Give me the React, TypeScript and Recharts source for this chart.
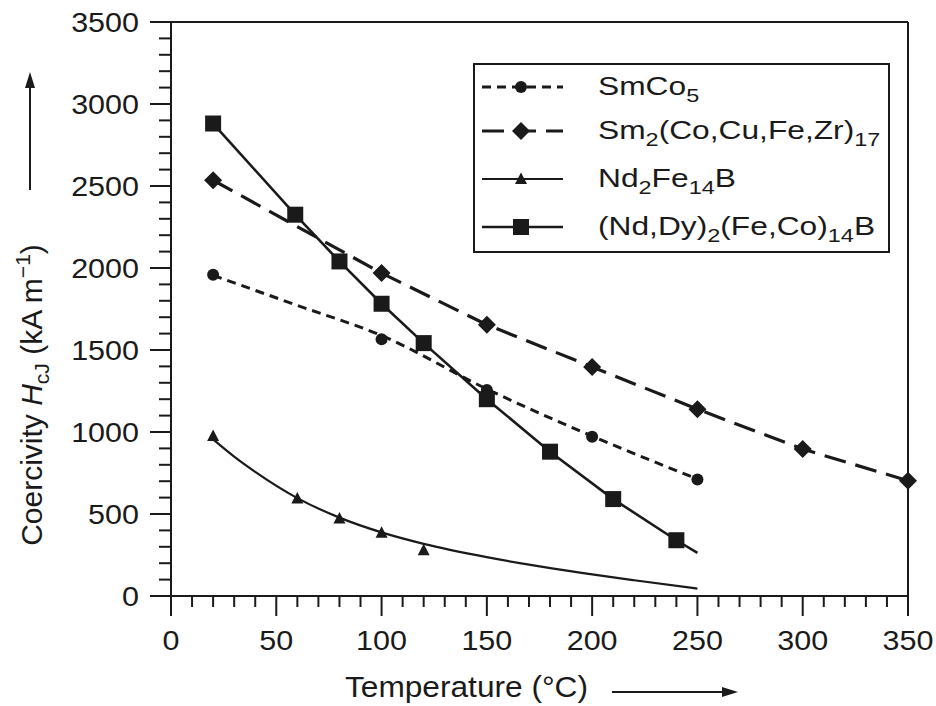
import { ComposedChart, Line, Scatter, XAxis, YAxis, ReferenceLine, Legend } from 'recharts';

const FONT = '"Liberation Sans", Arial, Helvetica, sans-serif';
const INK = '#1a1a1a';

// SmCo5 (measured points + drawn fit line)
const smco5T = [20, 100, 150, 200, 250];
const smco5H = [1959, 1566, 1256, 971, 711];
const smco5FitT = [20, 60, 100, 150, 200, 250];
const smco5FitH = [1955, 1772, 1588, 1262, 975, 713];

// Sm2(Co,Cu,Fe,Zr)17
const sm2T = [20, 100, 150, 200, 250, 300, 350];
const sm2H = [2535, 1969, 1654, 1397, 1139, 896, 703];

// Nd2Fe14B
const ndT = [20, 60, 80, 100, 120];
const ndH = [975, 595, 473, 385, 279];
const ndFitT = [20, 30, 40, 60, 80, 100, 120, 150, 170, 195, 220, 250];
const ndFitH = [955, 850, 757, 597, 478, 388, 318, 237, 191, 141, 96, 45];

// (Nd,Dy)2(Fe,Co)14B
const ndDyT = [20, 59, 80, 100, 120, 150, 180, 210, 240];
const ndDyH = [2881, 2325, 2040, 1782, 1542, 1200, 880, 591, 340];
const ndDyFitT = [20, 59, 80, 100, 120, 150, 180, 210, 240, 250];
const ndDyFitH = [2881, 2325, 2040, 1782, 1542, 1200, 880, 591, 340, 263];

const seriesNames = ['SmCo5', 'Sm2(Co,Cu,Fe,Zr)17', 'Nd2Fe14B', '(Nd,Dy)2(Fe,Co)14B'];

const xMajorTicks = [0, 50, 100, 150, 200, 250, 300, 350];
const yMajorTicks = [0, 500, 1000, 1500, 2000, 2500, 3000, 3500];
const xTicks = Array.from({ length: 36 }, (_, i) => i * 10);
const yTicks = Array.from({ length: 36 }, (_, i) => i * 100);

const pts = (t: number[], h: number[]) => t.map((x, i) => ({ x, y: h[i] }));

const Dot = ({ cx, cy }: any) => <circle cx={cx} cy={cy} r={6} fill={INK} />;
const Diamond = ({ cx, cy }: any) => (
  <path d={`M${cx},${cy - 9}L${cx + 9},${cy}L${cx},${cy + 9}L${cx - 9},${cy}Z`} fill={INK} />
);
const Triangle = ({ cx, cy }: any) => (
  <path d={`M${cx},${cy - 6.5}L${cx + 6},${cy + 5}L${cx - 6},${cy + 5}Z`} fill={INK} />
);
const Square = ({ cx, cy }: any) => <rect x={cx - 8} y={cy - 8} width={16} height={16} fill={INK} />;

const styles = [
  { dash: '9 6', width: 3, Marker: Dot },
  { dash: '22 10', width: 3.2, Marker: Diamond },
  { dash: undefined, width: 2.2, Marker: Triangle },
  { dash: undefined, width: 2.6, Marker: Square },
];

// digits in a formula are subscripts
const Formula = ({ name, size }: { name: string; size: number }) => {
  const parts = name.split(/(\d+)/).filter(Boolean);
  let down = false;
  return (
    <>
      {parts.map((p, i) => {
        const isSub = /^\d+$/.test(p);
        const dy = isSub && !down ? 7 : !isSub && down ? -7 : 0;
        down = isSub;
        return (
          <tspan key={i} dy={dy} fontSize={isSub ? size * 0.74 : size}>
            {p}
          </tspan>
        );
      })}
    </>
  );
};

const legendRowY = [24, 68, 116, 164];

const LegendBox = () => (
  <svg width={417} height={190} style={{ display: 'block' }}>
    <rect x={1} y={1} width={415} height={188} fill="#fff" stroke={INK} strokeWidth={2} />
    {seriesNames.map((name, i) => {
      const s = styles[i];
      const y = legendRowY[i];
      const M = s.Marker;
      return (
        <g key={name}>
          <line x1={9} x2={90} y1={y} y2={y} stroke={INK} strokeWidth={s.width} strokeDasharray={s.dash} />
          <M cx={48} cy={y} />
          <g transform={`translate(125,${y + 8}) scale(1.22,1)`}>
            <text fontSize={26} fontFamily={FONT} fill={INK}>
              <Formula name={name} size={26} />
            </text>
          </g>
        </g>
      );
    })}
  </svg>
);

const YTick = ({ x, y, payload }: any) => {
  const major = yMajorTicks.includes(payload.value);
  return (
    <g>
      <line x1={x} y1={y} x2={x - (major ? 21 : 12)} y2={y} stroke={INK} strokeWidth={2} />
      {major && (
        <g transform={`translate(${x - 32},${y}) scale(1.09,1)`}>
          <text textAnchor="end" dy="0.35em" fontSize={28} fontFamily={FONT} fill={INK}>
            {payload.value}
          </text>
        </g>
      )}
    </g>
  );
};

const XTick = ({ x, y, payload }: any) => {
  const major = xMajorTicks.includes(payload.value);
  return (
    <g>
      <line x1={x} y1={y} x2={x} y2={y + (major ? 20 : 11)} stroke={INK} strokeWidth={2} />
      {major && (
        <g transform={`translate(${x},${y + 44}) scale(1.09,1)`}>
          <text textAnchor="middle" dy="0.35em" fontSize={28} fontFamily={FONT} fill={INK}>
            {payload.value}
          </text>
        </g>
      )}
    </g>
  );
};

const XTitle = () => (
  <g>
    <text x={345} y={697} fontSize={29} fontFamily={FONT} fill={INK} textLength={243} lengthAdjust="spacingAndGlyphs">
      Temperature (°C)
    </text>
    <line x1={612} y1={692} x2={726} y2={692} stroke={INK} strokeWidth={2} />
    <path d="M738,692 L722,687 L722,697 Z" fill={INK} />
  </g>
);

const YTitle = () => (
  <g>
    <text transform="translate(42,395) rotate(-90)" textAnchor="middle" fontSize={30} fontFamily={FONT} fill={INK}>
      Coercivity <tspan fontStyle="italic">H</tspan>
      <tspan fontSize={21} dy={7}>cJ</tspan>
      <tspan dy={-7}> (kA m</tspan>
      <tspan fontSize={21} dy={-12}>−1</tspan>
      <tspan dy={12}>)</tspan>
    </text>
    <line x1={30} y1={190} x2={30} y2={84} stroke={INK} strokeWidth={2} />
    <path d="M30,72 L25,88 L35,88 Z" fill={INK} />
  </g>
);

export default function App() {
  const fits = [
    { data: pts(smco5FitT, smco5FitH), type: 'monotone' as const },
    { data: pts(sm2T, sm2H), type: 'linear' as const },
    { data: pts(ndFitT, ndFitH), type: 'monotone' as const },
    { data: pts(ndDyFitT, ndDyFitH), type: 'linear' as const },
  ];
  const marks = [pts(smco5T, smco5H), pts(sm2T, sm2H), pts(ndT, ndH), pts(ndDyT, ndDyH)];

  return (
    <div style={{ position: 'absolute', left: 0, top: 0, width: 936, height: 706, background: '#fff' }}>
      <ComposedChart width={936} height={706} margin={{ top: 22, right: 28, bottom: 0, left: 0 }}>
        <XAxis
          dataKey="x"
          type="number"
          domain={[0, 350]}
          ticks={xTicks}
          interval={0}
          height={110}
          tickSize={0}
          tickMargin={0}
          tickLine={false}
          axisLine={{ stroke: INK, strokeWidth: 2 }}
          tick={<XTick />}
          label={{ content: () => <XTitle /> }}
        />
        <YAxis
          type="number"
          domain={[0, 3500]}
          ticks={yTicks}
          interval={0}
          width={171}
          tickSize={0}
          tickMargin={0}
          tickLine={false}
          axisLine={{ stroke: INK, strokeWidth: 2 }}
          tick={<YTick />}
          label={{ content: () => <YTitle /> }}
        />
        <ReferenceLine y={3500} stroke={INK} strokeWidth={2} />
        <ReferenceLine x={350} stroke={INK} strokeWidth={2} />
        {fits.map((f, i) => (
          <Line
            key={`fit-${i}`}
            data={f.data}
            dataKey="y"
            type={f.type}
            stroke={INK}
            strokeWidth={styles[i].width}
            strokeDasharray={styles[i].dash}
            dot={false}
            activeDot={false}
            isAnimationActive={false}
          />
        ))}
        {marks.map((m, i) => (
          <Scatter
            key={`pts-${i}`}
            data={m}
            dataKey="y"
            shape={styles[i].Marker}
            isAnimationActive={false}
          />
        ))}
        <Legend
          layout="vertical"
          align="center"
          verticalAlign="middle"
          content={() => <LegendBox />}
          wrapperStyle={{ left: 473, top: 63, width: 417, height: 190 }}
        />
      </ComposedChart>
    </div>
  );
}
